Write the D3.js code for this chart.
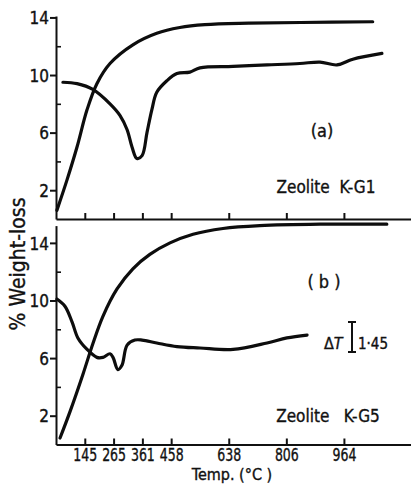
<!DOCTYPE html>
<html><head><meta charset="utf-8">
<script src="https://cdn.jsdelivr.net/npm/d3@7/dist/d3.min.js"></script>
<style>
html,body{margin:0;padding:0;background:#fff;}
svg text{font-family:"DejaVu Sans Condensed","Liberation Sans Narrow",sans-serif;fill:#111;stroke:#111;stroke-width:0.35px;white-space:pre;}
</style></head>
<body>
<svg id="chart" width="411" height="485"></svg>
<script>
// x axis is heating time (arbitrary units); temperatures label the ticks
const tickTime = [1, 2, 3, 4, 6, 8, 10];
const tickTemp = ["145", "265", "361", "458", "638", "806", "964"];
const yMajor = [2, 6, 10, 14];
const yMinor = [4, 8, 12];

// (a) Zeolite K-G1
const tgA_t = [0.03, 0.38, 0.73, 1.08, 1.42, 1.875, 2.67, 3.5, 4.3, 5.17, 6.7, 8.5, 11.0];
const tgA_v = [0.6, 2.7, 5.0, 7.6, 9.4, 10.8, 12.1, 12.9, 13.3, 13.5, 13.6, 13.65, 13.7];
const dtaA_t = [0.24, 0.73, 1.28, 1.875, 2.22, 2.47, 2.64, 2.81, 2.99, 3.16, 3.33, 3.5, 3.85, 4.2, 4.65, 5.0, 6.15, 7.33, 8.47, 9.17, 9.76, 10.31, 11.32];
const dtaA_v = [9.5, 9.4, 9.0, 8.0, 7.2, 6.2, 5.0, 4.2, 4.4, 6.0, 7.6, 8.8, 9.6, 10.1, 10.2, 10.5, 10.6, 10.7, 10.8, 10.9, 10.7, 11.1, 11.5];

// (b) Zeolite K-G5
const tgB_t = [0.14, 0.49, 0.94, 1.28, 1.63, 2.12, 2.67, 3.26, 3.96, 4.76, 5.8, 7.08, 9.17, 11.49];
const tgB_v = [0.45, 2.3, 4.9, 7.0, 8.9, 10.8, 12.2, 13.2, 14.0, 14.6, 15.0, 15.2, 15.3, 15.3];
const dtaB_t = [0.03, 0.31, 0.56, 0.76, 1.08, 1.42, 1.63, 1.875, 1.98, 2.15, 2.29, 2.47, 2.74, 2.99, 3.5, 4.2, 5.0, 6.15, 7.33, 8.02, 8.72];
const dtaB_v = [10.1, 9.6, 8.5, 7.4, 6.6, 6.05, 6.05, 6.3, 6.05, 5.2, 5.5, 6.9, 7.25, 7.25, 7.05, 6.8, 6.7, 6.6, 7.05, 7.4, 7.6];

const svg = d3.select("#chart");
const x = d3.scaleLinear().domain([0, 12.33]).range([56, 411]);
const yA = d3.scaleLinear().domain([0, 14.1]).range([219, 16]);
const yB = d3.scaleLinear().domain([0, 15.2]).range([444.5, 225.6]);

function drawPanel(y, showLabels, tg_t, tg_v, dta_t, dta_v) {
  const g = svg.append("g");
  const ya = g.append("g").attr("transform", `translate(${x(0)},0)`)
    .call(d3.axisLeft(y).tickValues(yMajor).tickSizeInner(6).tickSizeOuter(0).tickPadding(1).tickFormat(d3.format("d")));
  ya.select(".domain").attr("stroke", "#111").attr("stroke-width", 2);
  ya.selectAll(".tick line").attr("stroke", "#111").attr("stroke-width", 2);
  ya.selectAll(".tick text").style("font-size", "17px").attr("dy", "0.36em");
  const ym = g.append("g").attr("transform", `translate(${x(0)},0)`)
    .call(d3.axisRight(y).tickValues(yMinor).tickSize(5).tickFormat(""));
  ym.select(".domain").remove();
  ym.selectAll(".tick line").attr("stroke", "#111").attr("stroke-width", 1.6);
  const xa = g.append("g").attr("transform", `translate(0,${y(0)})`)
    .call(d3.axisBottom(x).tickValues(tickTime).tickSizeInner(-6).tickSizeOuter(0).tickPadding(4)
      .tickFormat((d, i) => showLabels ? tickTemp[i] : ""));
  xa.select(".domain").attr("stroke", "#111").attr("stroke-width", 2);
  xa.selectAll(".tick line").attr("stroke", "#111").attr("stroke-width", 2);
  xa.selectAll(".tick text").style("font-size", "17px").attr("transform", "scale(0.82,1)");

  const line = d3.line().curve(d3.curveCatmullRom.alpha(0.5));
  g.append("path")
    .attr("d", line(tg_t.map((t, i) => [x(t), y(tg_v[i])])))
    .attr("fill", "none").attr("stroke", "#0d0d0d").attr("stroke-width", 3.2).attr("stroke-linecap", "round");
  g.append("path")
    .attr("d", line(dta_t.map((t, i) => [x(t), y(dta_v[i])])))
    .attr("fill", "none").attr("stroke", "#0d0d0d").attr("stroke-width", 3.2).attr("stroke-linecap", "round");
  return g;
}

drawPanel(yA, false, tgA_t, tgA_v, dtaA_t, dtaA_v);
drawPanel(yB, true, tgB_t, tgB_v, dtaB_t, dtaB_v);

svg.append("text").attr("x", 322).attr("y", 137).attr("text-anchor", "middle").style("font-size", "18px").text("(a)");
svg.append("text").attr("x", 326).attr("y", 193).attr("text-anchor", "middle").style("font-size", "17px").text("Zeolite  K-G1");
svg.append("text").attr("x", 324).attr("y", 288).attr("text-anchor", "middle").style("font-size", "18px").text("( b )");
svg.append("text").attr("x", 328).attr("y", 422).attr("text-anchor", "middle").style("font-size", "17px").text("Zeolite   K-G5");

const dT = svg.append("text").attr("x", 324).attr("y", 349).style("font-size", "16px");
dT.append("tspan").text("Δ");
dT.append("tspan").style("font-style", "italic").text("T");
svg.append("path").attr("d", "M348,322H356M352,322V352M348,352H356")
  .attr("stroke", "#111").attr("stroke-width", 2).attr("fill", "none");
svg.append("text").attr("x", 358).attr("y", 349).style("font-size", "15px").text("1·45");

svg.append("text").attr("transform", "translate(25,264) rotate(-90)").attr("text-anchor", "middle")
  .style("font-size", "21px").text("% Weight-loss");
svg.append("text").attr("x", 232).attr("y", 480).attr("text-anchor", "middle").style("font-size", "16px").text("Temp. (°C )");
</script>
</body></html>
